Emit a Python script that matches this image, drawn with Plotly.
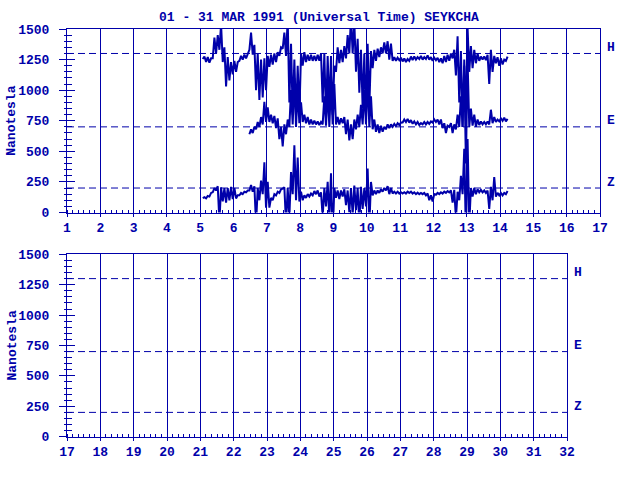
import plotly.graph_objects as go

BLUE = '#0000AA'

# Bin centres (day of March 1991, UT), 0.1-day bins
days = [5.1, 5.2, 5.3, 5.4, 5.5, 5.6, 5.7, 5.8, 5.9, 6.0,
        6.1, 6.2, 6.3, 6.4, 6.5, 6.6, 6.7, 6.8, 6.9, 7.0,
        7.1, 7.2, 7.3, 7.4, 7.5, 7.6, 7.7, 7.8, 7.9, 8.0,
        8.1, 8.2, 8.3, 8.4, 8.5, 8.6, 8.7, 8.8, 8.9, 9.0,
        9.1, 9.2, 9.3, 9.4, 9.5, 9.6, 9.7, 9.8, 9.9, 10.0,
        10.1, 10.2, 10.3, 10.4, 10.5, 10.6, 10.7, 10.8, 10.9, 11.0,
        11.1, 11.2, 11.3, 11.4, 11.5, 11.6, 11.7, 11.8, 11.9, 12.0,
        12.1, 12.2, 12.3, 12.4, 12.5, 12.6, 12.7, 12.8, 12.9, 13.0,
        13.1, 13.2, 13.3, 13.4, 13.5, 13.6, 13.7, 13.8, 13.9, 14.0,
        14.1, 14.2]

# H component: min / max within each bin (nT)
H_lo = [1255, 1230, 1225, 1260, 1300, 1330, 1230, 1030, 1080, 1130,
        1150, 1240, 1250, 1260, 1330, 1290, 1000, 920, 940, 1000,
        1190, 1210, 1230, 1280, 1340, 1280, 900, 800, 780, 800,
        1200, 1230, 1240, 1240, 1240, 1240, 900, 780, 840, 800,
        1150, 1220, 1230, 1260, 1300, 1300, 1150, 980, 850, 800,
        850, 1180, 1240, 1270, 1300, 1300, 1250, 1240, 1240, 1245,
        1235, 1230, 1240, 1245, 1250, 1255, 1250, 1255, 1250, 1240,
        1245, 1230, 1220, 1230, 1240, 1260, 1120, 900, 700, 750,
        1150, 1180, 1220, 1240, 1250, 1245, 1050, 1150, 1220, 1200,
        1210, 1240]
H_hi = [1275, 1270, 1260, 1430, 1450, 1540, 1350, 1270, 1230, 1240,
        1230, 1280, 1290, 1300, 1470, 1370, 1300, 1250, 1260, 1280,
        1290, 1300, 1310, 1350, 1470, 1580, 1380, 1250, 1200, 1300,
        1310, 1290, 1290, 1280, 1290, 1300, 1300, 1280, 1280, 1200,
        1350, 1330, 1360, 1450, 1600, 1560, 1420, 1330, 1300, 1380,
        1320, 1330, 1340, 1350, 1390, 1400, 1380, 1270, 1265, 1265,
        1260, 1255, 1275, 1275, 1270, 1280, 1270, 1285, 1270, 1265,
        1265, 1260, 1280, 1290, 1300, 1330, 1440, 1320, 1250, 1510,
        1360, 1330, 1300, 1275, 1275, 1290, 1330, 1280, 1270, 1260,
        1250, 1275]

# E component (starts on day 6.5)
E_lo = [None] * 14 + [
        640, 650, 680, 700, 720, 740,
        740, 730, 690, 600, 540, 640, 700, 720, 700, 730,
        740, 730, 720, 720, 720, 715, 720, 710, 700, 720,
        720, 720, 730, 640, 590, 600, 680, 700, 720, 720,
        700, 680, 660, 650, 660, 680, 690, 700, 705, 715,
        735, 740, 735, 725, 720, 715, 720, 720, 725, 735,
        740, 720, 690, 650, 700, 650, 680, 700, 700, 400,
        700, 710, 700, 715, 720, 720, 720, 730, 740, 745,
        750, 745]
E_hi = [None] * 14 + [
        680, 700, 740, 780, 905, 860,
        800, 790, 770, 700, 720, 760, 1000, 1100, 1000, 900,
        800, 780, 760, 750, 745, 740, 950, 1000, 1050, 1050,
        780, 770, 780, 760, 720, 760, 800, 880, 1000, 1100,
        950, 760, 720, 710, 700, 720, 720, 725, 730, 735,
        760, 765, 755, 745, 740, 730, 740, 740, 745, 760,
        760, 760, 730, 710, 730, 720, 800, 950, 1200, 1250,
        850, 800, 760, 745, 740, 745, 840, 780, 760, 770,
        775, 765]

# Z component
Z_lo = [118, 115, 130, 165, 180, -75, 90, 80, 100, 110,
        115, 140, 150, 165, 180, 170, -100, 100, 150, 40,
        40, 100, 140, 160, 195, -90, -40, 150, 100, 90,
        100, 120, 130, 140, 150, 130, -35, 50, -50, -200,
        120, 110, 130, 60, 0, -20, 20, -90, 30, 50,
        -120, 140, 150, 160, 170, 180, 150, 155, 155, 155,
        155, 155, 160, 155, 150, 150, 150, 140, 100, 90,
        145, 150, 155, 160, 165, 80, -50, 100, 150, -200,
        -100, 130, 150, 165, 165, 160, 30, 100, 130, 140,
        140, 150]
Z_hi = [125, 135, 160, 200, 215, 205, 200, 200, 210, 200,
        140, 160, 170, 180, 225, 215, 200, 260, 410, 250,
        120, 150, 170, 190, 205, 200, 330, 550, 450, 170,
        140, 150, 155, 175, 180, 165, 200, 250, 320, 200,
        180, 180, 190, 180, 200, 220, 200, 210, 200, 360,
        250, 180, 180, 190, 200, 215, 200, 170, 170, 165,
        165, 170, 170, 165, 162, 160, 160, 155, 140, 150,
        160, 165, 170, 175, 180, 185, 170, 300, 520, 600,
        200, 200, 190, 185, 180, 180, 210, 290, 160, 160,
        160, 175]

ref_levels = [1300, 700, 200]
ref_names = ['H', 'E', 'Z']
top_days = [1, 17]
bottom_days = [17, 32]
y_range = [0, 1500]


def zigzag(t, lo, hi):
    xs, ys = [], []
    for d, a, b in zip(t, lo, hi):
        if a is None:
            continue
        xs += [d - 0.025, d + 0.025]
        ys += [a, b]
    return xs, ys


fig = go.Figure()
for lo, hi in [(H_lo, H_hi), (E_lo, E_hi), (Z_lo, Z_hi)]:
    xs, ys = zigzag(days, lo, hi)
    fig.add_trace(go.Scatter(x=xs, y=ys, mode='lines', xaxis='x', yaxis='y',
                             line=dict(color=BLUE, width=2),
                             showlegend=False, hoverinfo='skip'))
# empty traces so the other axes are drawn
fig.add_trace(go.Scatter(x=[], y=[], xaxis='x2', yaxis='y2', showlegend=False))
fig.add_trace(go.Scatter(x=[], y=[], xaxis='x', yaxis='y3', showlegend=False))
fig.add_trace(go.Scatter(x=[], y=[], xaxis='x2', yaxis='y4', showlegend=False))

FONT = dict(family='Liberation Mono', size=13, color=BLUE, weight='bold')

W, H = 640, 480


def px(xp):
    return xp / W


def py(yp):
    return 1 - yp / H


def xax(domain, rng, anchor):
    return dict(domain=domain, range=rng, anchor=anchor, tickmode='linear',
                tick0=rng[0], dtick=1, showgrid=True, gridcolor=BLUE, gridwidth=1,
                ticks='outside', ticklen=3, tickcolor=BLUE, tickwidth=1,
                showline=True, linecolor=BLUE, linewidth=1, mirror=True,
                zeroline=False, tickfont=FONT, fixedrange=True, automargin=False,
                minor=dict(tick0=rng[0], dtick=1 / 6, ticks='inside', ticklen=3,
                           tickcolor=BLUE, tickwidth=1, showgrid=False))


def yax(domain, anchor):
    return dict(domain=domain, range=y_range, anchor=anchor, tickmode='linear',
                tick0=0, dtick=250, showgrid=False, ticks='outside', ticklen=7,
                tickcolor=BLUE, tickwidth=1, showline=True, linecolor=BLUE,
                linewidth=1, mirror=True, zeroline=False, tickfont=FONT,
                fixedrange=True, automargin=False, ticklabelstandoff=7,
                minor=dict(tick0=0, dtick=50, ticks='outside', ticklen=2,
                           tickcolor=BLUE, tickwidth=1, showgrid=False))


def yov(over, anchor):
    return dict(overlaying=over, anchor=anchor, range=y_range, tickmode='linear',
                tick0=0, dtick=250, ticks='inside', ticklen=8, tickcolor=BLUE,
                tickwidth=1, showticklabels=False, showgrid=False, showline=False,
                zeroline=False, fixedrange=True, automargin=False,
                minor=dict(tick0=0, dtick=50, ticks='inside', ticklen=5,
                           tickcolor=BLUE, tickwidth=1, showgrid=False))


top_y = [py(212.5), py(29)]
bot_y = [py(436.7), py(254.3)]

fig.update_layout(
    width=W, height=H,
    margin=dict(l=0, r=0, t=0, b=0, pad=0, autoexpand=False),
    paper_bgcolor='white', plot_bgcolor='white',
    xaxis=xax([px(67), px(600)], top_days, 'y'),
    yaxis=yax(top_y, 'x'),
    xaxis2=xax([px(67), px(567)], bottom_days, 'y2'),
    yaxis2=yax(bot_y, 'x2'),
    yaxis3=yov('y', 'x'),
    yaxis4=yov('y2', 'x2'),
    title=dict(text='01 - 31 MAR 1991 (Universal Time) SEYKCHA',
               x=px(319), xanchor='center', y=py(16), yanchor='middle',
               xref='paper', yref='paper', font=FONT, automargin=False),
    showlegend=False,
    hovermode=False,
)

shapes = []
annotations = []
for xa, ya, rng in [('x', 'y', top_days), ('x2', 'y2', bottom_days)]:
    for lvl, name in zip(ref_levels, ref_names):
        shapes.append(dict(type='line', xref=xa, yref=ya, x0=rng[0], x1=rng[1],
                           y0=lvl, y1=lvl, layer='below',
                           line=dict(color=BLUE, width=1, dash='7px,4px')))
        annotations.append(dict(text=name, xref=xa + ' domain', yref=ya, x=1, y=lvl,
                                xanchor='center', yanchor='middle', xshift=11,
                                yshift=6, showarrow=False, font=FONT))
    annotations.append(dict(text='Nanotesla', xref='paper', yref=ya + ' domain',
                            x=px(12), y=0.5, textangle=-90, xanchor='center',
                            yanchor='middle', showarrow=False, font=FONT))

fig.update_layout(shapes=shapes, annotations=annotations)
fig.write_html('out.html',
               config={'displayModeBar': False, 'staticPlot': True},
               post_script="document.body.style.margin='0px';"
                           "document.body.style.overflow='hidden';")
